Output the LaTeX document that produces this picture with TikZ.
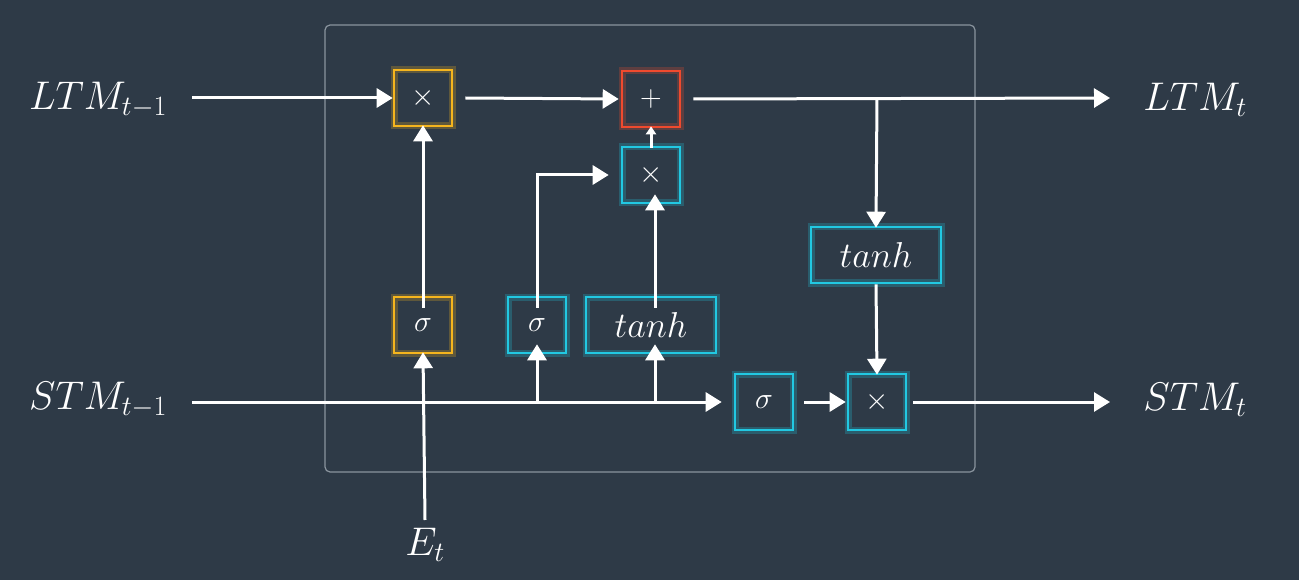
\RequirePackage{fix-cm}
\documentclass[tikz,border=0pt]{standalone}
\usetikzlibrary{arrows.meta}
\definecolor{bg}{HTML}{2E3A47}
\definecolor{org}{HTML}{F5B51E}
\definecolor{rd}{HTML}{F04A2E}
\definecolor{cy}{HTML}{22C8E2}
\definecolor{fr}{HTML}{8A949E}
\begin{document}
\begin{tikzpicture}[x=1pt,y=-1pt,
  box/.style={draw=#1,line width=2.6pt,minimum height=56pt,minimum width=58pt,inner sep=0pt,text=white,font=\fontsize{30}{36}\selectfont,
    preaction={draw=#1,line width=7pt,draw opacity=0.25}},
  lab/.style={text=white,font=\fontsize{40}{48}\selectfont,inner sep=0pt},
  arr/.style={white,line width=3pt,-{Triangle[width=19pt,length=16pt]}},
  ln/.style={white,line width=3pt}]
\fill[bg] (0,0) rectangle (1299,580);
\useasboundingbox (0,0) rectangle (1299,580);
\draw[fr,line width=1.2pt,rounded corners=5pt] (325,25) rectangle (975,472);
\node[box=org] (m1) at (423,98) {$\times$};
\node[box=rd] (p) at (651,99) {$+$};
\node[box=cy] (m2) at (651,175) {$\times$};
\node[box=org] (s1) at (423,325) {$\sigma$};
\node[box=cy] (s2) at (537,325) {$\sigma$};
\node[box=cy,minimum width=130pt,font=\fontsize{36}{40}\selectfont] (t1) at (651,325) {$tanh$};
\node[box=cy,minimum width=130pt,font=\fontsize{36}{40}\selectfont] (t2) at (876,255) {$tanh$};
\node[box=cy] (s3) at (764,402) {$\sigma$};
\node[box=cy] (m3) at (877,402) {$\times$};
\node[lab] (ltm0) at (98,100) {$LTM_{t-1}$};
\node[lab] (ltm1) at (1195,100) {$LTM_t$};
\node[lab] (stm0) at (98,400) {$STM_{t-1}$};
\node[lab] (stm1) at (1195,400) {$STM_t$};
\node[lab] (et) at (425,545) {$E_t$};
\coordinate (ls) at (192,98);
\coordinate (ss) at (192,402);
\coordinate (br) at (877,98);
\coordinate (e0) at (425,520);
\coordinate (j1) at (537,402);
\coordinate (j2) at (655,402);
\draw[arr] (ls) -- (m1.west);
\draw[arr] (m1.east) ++(12pt,0) -- ([xshift=-2pt]p.west);
\draw[arr] ([xshift=12pt]p.east) -- (1110,98);
\draw[arr] (br) -- ([yshift=-2pt]t2.north);
\draw[arr] (t2.south) -- ([yshift=-2pt]m3.north);
\draw[arr] (ss) -- ([xshift=-12pt]s3.west);
\draw[arr] ([xshift=10pt]s3.east) -- ([xshift=-1pt]m3.west);
\draw[arr] ([xshift=6pt]m3.east) -- (1110,402);
\draw[arr] (e0) -- ([yshift=2pt]s1.south);
\draw[arr] ([yshift=-12pt]s1.north) -- ([yshift=2pt]m1.south);
\draw[arr] (j1) -- ([yshift=10pt]s2.south);
\draw[arr] (j2) -- ([xshift=4pt,yshift=10pt]t1.south);
\draw[arr] ([yshift=-12pt]s2.north) |- ([xshift=-12pt]m2.west);
\draw[arr] ([xshift=4pt,yshift=-12pt]t1.north) -- ([xshift=4pt,yshift=10pt]m2.south);
\draw[white,line width=3pt,-{Triangle[width=10pt,length=8pt]}] ([yshift=-2pt]m2.north) -- ([yshift=2pt]p.south);
\end{tikzpicture}
\end{document}
